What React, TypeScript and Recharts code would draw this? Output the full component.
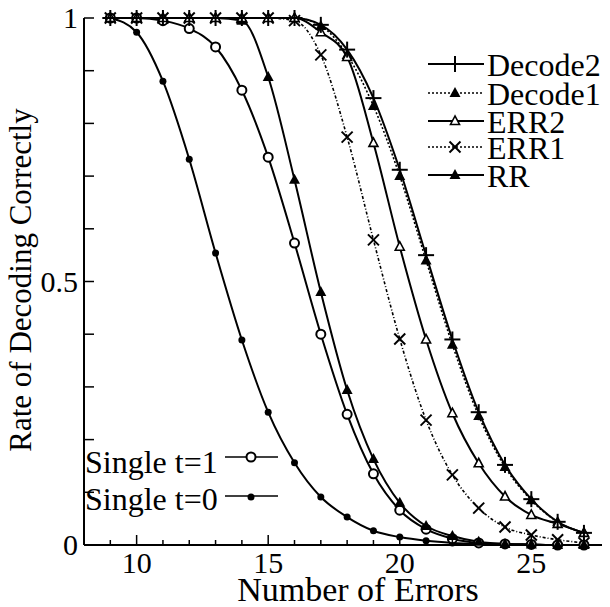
import React from "react";
import { LineChart, Line, XAxis, YAxis } from "recharts";

const xs = [9, 10, 11, 12, 13, 14, 15, 16, 17, 18, 19, 20, 21, 22, 23, 24, 25, 26, 27];
const decode2 = [1, 1, 1, 1, 1, 1, 1, 1, 0.987, 0.94, 0.848, 0.712, 0.55, 0.39, 0.252, 0.152, 0.087, 0.044, 0.023];
const decode1 = [1, 1, 1, 1, 1, 1, 1, 1, 0.985, 0.93, 0.833, 0.7, 0.54, 0.38, 0.245, 0.148, 0.085, 0.044, 0.023];
const err2 = [1, 1, 1, 1, 1, 1, 1, 1, 0.973, 0.926, 0.763, 0.566, 0.39, 0.25, 0.155, 0.092, 0.057, 0.04, 0.023];
const err1 = [1, 1, 1, 1, 1, 1, 1, 0.995, 0.93, 0.774, 0.579, 0.391, 0.237, 0.133, 0.07, 0.034, 0.019, 0.01, 0.004];
const rr = [1, 1, 1, 1, 1, 0.995, 0.888, 0.693, 0.48, 0.294, 0.163, 0.08, 0.036, 0.017, 0.006, 0.002, 0.001, 0, 0];
const single1 = [1, 1, 0.995, 0.98, 0.945, 0.863, 0.736, 0.573, 0.4, 0.248, 0.135, 0.066, 0.03, 0.012, 0.004, 0.002, 0.001, 0, 0];
const single0 = [1, 0.973, 0.88, 0.732, 0.554, 0.389, 0.252, 0.156, 0.091, 0.053, 0.027, 0.015, 0.008, 0.004, 0.002, 0.001, 0, 0, 0];

const bottomTicks = [9, 10, 11, 12, 13, 14, 15, 16, 17, 18, 19, 20, 21, 22, 23, 24, 25, 26, 27];
const bottomLabels = [10, 15, 20, 25];
const topTicks = [10, 12.5, 15, 17.5, 20, 22.5, 25, 27.5];
const yTicks = [0, 0.1, 0.2, 0.3, 0.4, 0.5, 0.6, 0.7, 0.8, 0.9, 1];
const yLabels = [0, 0.5, 1];

const data = xs.map((x, i) => ({
  x,
  decode2: decode2[i],
  decode1: decode1[i],
  err2: err2[i],
  err1: err1[i],
  rr: rr[i],
  single1: single1[i],
  single0: single0[i],
}));

const FONT = "Liberation Serif, Tinos, Times New Roman, Times, DejaVu Serif, Noto Serif, serif";

type MK = "plus" | "tri" | "otri" | "x" | "ocirc" | "dot";

function Marker({ kind, cx, cy }: { kind: MK; cx: number; cy: number }) {
  switch (kind) {
    case "plus":
      return (
        <g stroke="#000" strokeWidth={2}>
          <line x1={cx - 8} x2={cx + 8} y1={cy} y2={cy} />
          <line x1={cx} x2={cx} y1={cy - 8} y2={cy + 8} />
        </g>
      );
    case "tri":
      return <polygon points={`${cx},${cy - 6} ${cx - 5.5},${cy + 4} ${cx + 5.5},${cy + 4}`} fill="#000" />;
    case "otri":
      return (
        <polygon
          points={`${cx},${cy - 5} ${cx - 4.5},${cy + 3.5} ${cx + 4.5},${cy + 3.5}`}
          fill="#fff"
          stroke="#000"
          strokeWidth={1.6}
        />
      );
    case "x":
      return (
        <g stroke="#000" strokeWidth={2}>
          <line x1={cx - 5.5} x2={cx + 5.5} y1={cy - 5.5} y2={cy + 5.5} />
          <line x1={cx - 5.5} x2={cx + 5.5} y1={cy + 5.5} y2={cy - 5.5} />
        </g>
      );
    case "ocirc":
      return <circle cx={cx} cy={cy} r={4.5} fill="#fff" stroke="#000" strokeWidth={2} />;
    default:
      return <circle cx={cx} cy={cy} r={3.5} fill="#000" />;
  }
}

const dotFn = (kind: MK) => (p: any) => {
  if (p.cx == null || p.cy == null) return <g key={`e${p.index}`} />;
  return (
    <g key={`${kind}-${p.index}`}>
      <Marker kind={kind} cx={p.cx} cy={p.cy} />
    </g>
  );
};

const txtStyle = { fontFamily: FONT };

const BottomTick = (p: any) => {
  const { x, y, payload } = p;
  const v = payload.value;
  const major = bottomLabels.includes(v);
  return (
    <g>
      <line x1={x} x2={x} y1={y} y2={y - (major ? 10 : 5)} stroke="#000" strokeWidth={1.5} />
      {major && (
        <text x={x} y={y + 28} textAnchor="middle" fontSize={30} style={txtStyle} fill="#000">
          {v}
        </text>
      )}
    </g>
  );
};

const TopTick = (p: any) => {
  const { x, y, payload } = p;
  const v = payload.value;
  const major = v % 5 === 0;
  return <line x1={x} x2={x} y1={y} y2={y + (major ? 9 : 5)} stroke="#000" strokeWidth={1.5} />;
};

const LeftTick = (p: any) => {
  const { x, y, payload } = p;
  const v = payload.value;
  const lab = yLabels.includes(v);
  return (
    <g>
      <line x1={x} x2={x + 10} y1={y} y2={y} stroke="#000" strokeWidth={1.5} />
      {lab && (
        <text x={x - 6} y={y + 10} textAnchor="end" fontSize={30} style={txtStyle} fill="#000">
          {v}
        </text>
      )}
    </g>
  );
};

const RightTick = (p: any) => {
  const { x, y } = p;
  return <line x1={x} x2={x - 10} y1={y} y2={y} stroke="#000" strokeWidth={1.5} />;
};

const legendTop: { name: string; kind: MK; dash?: string }[] = [
  { name: "Decode2", kind: "plus" },
  { name: "Decode1", kind: "tri", dash: "2 2" },
  { name: "ERR2", kind: "otri" },
  { name: "ERR1", kind: "x", dash: "2 2" },
  { name: "RR", kind: "tri" },
];
const legendTopRows = [56, 85, 113, 139, 167];

const axisLine = { stroke: "#000", strokeWidth: 2 };

export default function App() {
  return (
    <div style={{ position: "relative", width: 602, height: 599 }}>
      <LineChart width={602} height={599} data={data} margin={{ top: 10, right: 5, left: 0, bottom: 0 }}>
        <XAxis
          xAxisId="b"
          dataKey="x"
          type="number"
          domain={[8, 27.8]}
          ticks={bottomTicks}
          interval={0}
          height={62}
          tickSize={0}
          tickMargin={0}
          tickLine={false}
          axisLine={axisLine}
          tick={BottomTick}
        />
        <XAxis
          xAxisId="t"
          orientation="top"
          dataKey="x"
          type="number"
          domain={[8, 27.8]}
          ticks={topTicks}
          interval={0}
          height={0}
          tickSize={0}
          tickMargin={0}
          tickLine={false}
          axisLine={axisLine}
          tick={TopTick}
        />
        <YAxis
          yAxisId="l"
          type="number"
          domain={[0, 1]}
          ticks={yTicks}
          interval={0}
          width={76}
          tickSize={0}
          tickMargin={0}
          tickLine={false}
          axisLine={axisLine}
          tick={LeftTick}
        />
        <YAxis
          yAxisId="r"
          orientation="right"
          type="number"
          domain={[0, 1]}
          ticks={yTicks}
          interval={0}
          width={0}
          tickSize={0}
          tickMargin={0}
          tickLine={false}
          axisLine={axisLine}
          tick={RightTick}
        />
        <Line xAxisId="b" yAxisId="l" dataKey="err1" type="monotone" stroke="#000" strokeWidth={1.6} strokeDasharray="3 2 1 2" dot={dotFn("x")} activeDot={false} isAnimationActive={false} />
        <Line xAxisId="b" yAxisId="l" dataKey="decode1" type="monotone" stroke="#000" strokeWidth={1.6} strokeDasharray="2 2" dot={dotFn("tri")} activeDot={false} isAnimationActive={false} />
        <Line xAxisId="b" yAxisId="l" dataKey="single0" type="monotone" stroke="#000" strokeWidth={2} dot={dotFn("dot")} activeDot={false} isAnimationActive={false} />
        <Line xAxisId="b" yAxisId="l" dataKey="single1" type="monotone" stroke="#000" strokeWidth={2} dot={dotFn("ocirc")} activeDot={false} isAnimationActive={false} />
        <Line xAxisId="b" yAxisId="l" dataKey="rr" type="monotone" stroke="#000" strokeWidth={2} dot={dotFn("tri")} activeDot={false} isAnimationActive={false} />
        <Line xAxisId="b" yAxisId="l" dataKey="err2" type="monotone" stroke="#000" strokeWidth={2} dot={dotFn("otri")} activeDot={false} isAnimationActive={false} />
        <Line xAxisId="b" yAxisId="l" dataKey="decode2" type="monotone" stroke="#000" strokeWidth={2} dot={dotFn("plus")} activeDot={false} isAnimationActive={false} />
      </LineChart>
      <svg
        width={602}
        height={599}
        style={{ position: "absolute", left: 0, top: 0, pointerEvents: "none" }}
      >
        {legendTop.map((e, i) => {
          const y = legendTopRows[i];
          return (
            <g key={e.name}>
              <rect x={420} y={y - 12} width={58} height={24} fill="#fff" />
              <line
                x1={420}
                x2={476}
                y1={y}
                y2={y}
                stroke="#000"
                strokeWidth={e.dash ? 1.6 : 2}
                strokeDasharray={e.dash}
              />
              <Marker kind={e.kind} cx={447} cy={y} />
              <text x={479} y={y + 12} fontSize={32} style={txtStyle} fill="#000">
                {e.name}
              </text>
            </g>
          );
        })}
        <g>
          <line x1={217} x2={270} y1={449} y2={449} stroke="#000" strokeWidth={1.6} />
          <Marker kind="ocirc" cx={243} cy={449} />
          <text x={77} y={465} fontSize={32} style={txtStyle} fill="#000">
            Single t=1
          </text>
          <line x1={217} x2={270} y1={488} y2={488} stroke="#000" strokeWidth={1.6} />
          <Marker kind="dot" cx={243} cy={489} />
          <text x={77} y={502} fontSize={32} style={txtStyle} fill="#000">
            Single t=0
          </text>
        </g>
        <text x={350} y={593} textAnchor="middle" fontSize={34} style={txtStyle} fill="#000">
          Number of Errors
        </text>
        <text
          x={23}
          y={272}
          textAnchor="middle"
          fontSize={31}
          style={txtStyle}
          fill="#000"
          transform="rotate(-90 23 272)"
        >
          Rate of Decoding Correctly
        </text>
      </svg>
    </div>
  );
}
